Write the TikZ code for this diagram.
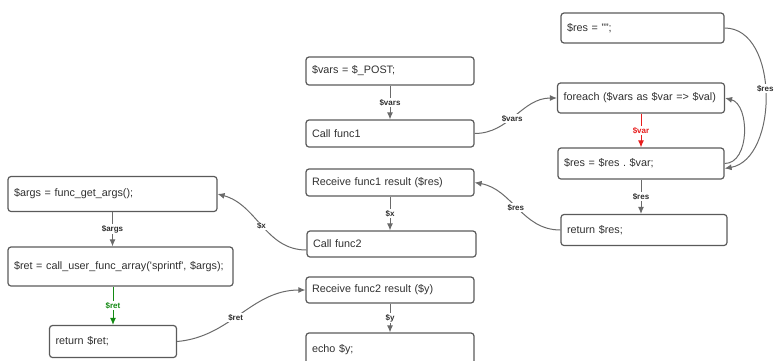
\documentclass[tikz,border=0pt]{standalone}
\usepackage{fontspec}
\setsansfont{Liberation Sans}
\usepackage{xcolor}
\usepackage{tikz}
\usetikzlibrary{arrows.meta}

\definecolor{boxline}{HTML}{5A5A5A}
\definecolor{boxtext}{HTML}{303030}
\definecolor{linkgray}{HTML}{6A6A6A}
\definecolor{varred}{HTML}{E81D1D}
\definecolor{retgreen}{HTML}{138A13}

\begin{document}
\frenchspacing
\begin{tikzpicture}[
		%Global config
		x=1pt, y=-1pt,
		>={Latex[length=7pt,width=6pt]},
		line width=1.2pt,
		%Styles
		Box/.style={
			draw=boxline,
			rounded corners=3pt,
			text=boxtext,
			font=\sffamily\fontsize{10.8}{13}\selectfont,
			align=left,
			inner xsep=6pt,
			text width=#1,
			minimum height=28pt,
		},
		Link/.style={
			->,
			draw=linkgray,
			line width=1pt,
		},
		Lbl/.style={
			fill=white,
			inner sep=1pt,
			text=boxtext,
			font=\sffamily\bfseries\fontsize{8}{9}\selectfont,
		},
		]
		\useasboundingbox (0,0) rectangle (774,360);

		% middle column
		\node[Box=156pt, minimum height=28pt] (vars) at (390,71) {\$vars = \$\_POST;};
		\node[Box=156pt, minimum height=27pt] (funcone) at (390,133.5) {Call func1};
		\node[Box=156pt, minimum height=27pt] (recvone) at (390,182.5) {Receive func1 result (\$res)};
		\node[Box=157pt, minimum height=26pt] (functwo) at (391.5,244) {Call func2};
		\node[Box=156pt, minimum height=26pt] (recvtwo) at (390,290) {Receive func2 result (\$y)};
		\node[Box=156pt, minimum height=34pt] (echo) at (390,350) {echo \$y;};

		% right column
		\node[Box=151pt, minimum height=30pt] (resinit) at (642.5,28) {\$res = "";};
		\node[Box=155pt, minimum height=30pt] (loop) at (641,98) {foreach (\$vars as \$var => \$val)};
		\node[Box=154pt, minimum height=31pt] (concat) at (641,163.5) {\$res = \$res . \$var;};
		\node[Box=154pt, minimum height=31pt] (retres) at (644,230) {return \$res;};

		% left column
		\node[Box=197pt, minimum height=35pt] (args) at (112.5,194) {\$args = func\_get\_args();};
		\node[Box=213pt, minimum height=39pt] (ret) at (120.5,266.5) {\$ret = call\_user\_func\_array(\textquotesingle sprintf\textquotesingle, \$args);};
		\node[Box=115pt, minimum height=32pt] (retret) at (113,341.5) {return \$ret;};

		% links
		\draw[Link] (vars) -- node[Lbl] {\$vars} (funcone);
		\draw[Link] (funcone.east) to[out=0, in=180] node[Lbl, pos=0.45] {\$vars} (loop.west);
		\draw[Link, draw=varred] (loop) -- node[Lbl, text=varred] {\$var} (concat);
		\draw[Link] (concat.east) to[out=0, in=-15] (loop.east);
		\draw[Link] (resinit.east) to[out=0, in=10] node[Lbl, pos=0.47] {\$res} ([yshift=-5pt]concat.east);
		\draw[Link] (concat.south) -- node[Lbl] {\$res} (concat.south |- retres.north);
		\draw[Link] (retres.west) to[out=180, in=-10] node[Lbl, pos=0.52] {\$res} (recvone.east);
		\draw[Link] (recvone.south) -- node[Lbl] {\$x} (recvone.south |- functwo.north);
		\draw[Link] ([yshift=-6pt]functwo.west) to[out=180, in=-15] node[Lbl] {\$x} (args.east);
		\draw[Link] (args.south) -- node[Lbl] {\$args} (args.south |- ret.north);
		\draw[Link, draw=retgreen] (retret.north |- ret.south) -- node[Lbl, text=retgreen] {\$ret} (retret.north);
		\draw[Link] (retret.east) to[out=5, in=180] node[Lbl, pos=0.45] {\$ret} (recvtwo.west);
		\draw[Link] (recvtwo) -- node[Lbl] {\$y} (echo);
	\end{tikzpicture}
\end{document}
